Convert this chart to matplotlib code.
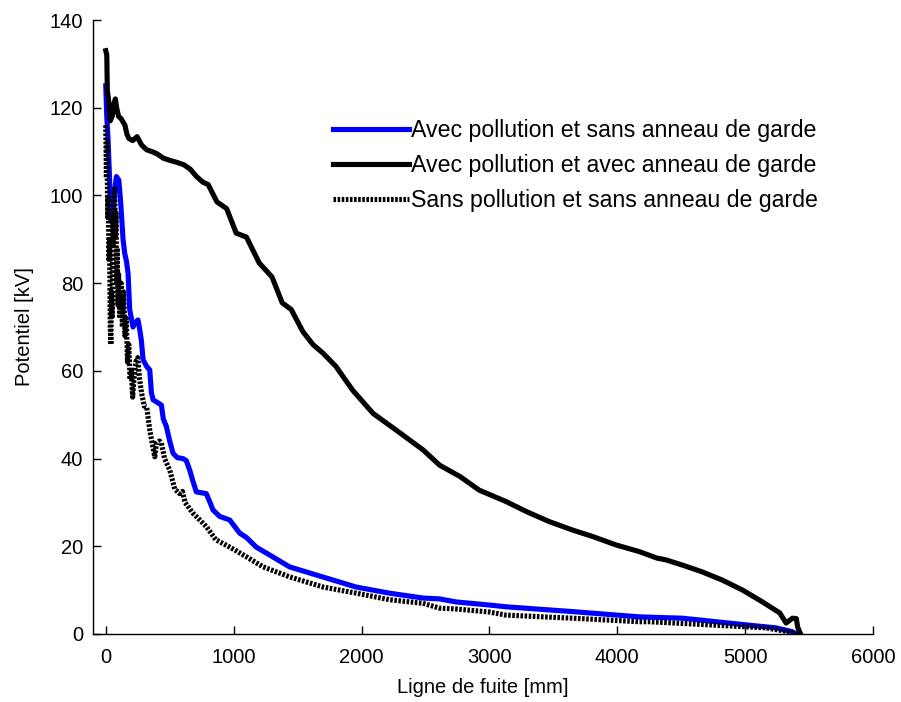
import matplotlib
matplotlib.use("Agg")
import matplotlib.pyplot as plt

# Avec pollution et sans anneau de garde (blue)
x_blue = [0, 8, 18, 31, 39, 50, 57, 70, 83, 102, 115, 122, 135, 148, 162, 174, 187, 200, 213,
          230, 252, 266, 278, 292, 320, 344, 357, 370, 435, 450, 474, 500, 526, 560, 604, 630,
          656, 680, 708, 786, 815, 838, 891, 969, 1021, 1047, 1100, 1177, 1305, 1437, 1697,
          1958, 2219, 2479, 2610, 2740, 3000, 3130, 3651, 4172, 4508, 4771, 5031, 5240, 5370, 5400]
y_blue = [125, 118, 112.6, 102.7, 94.4, 95, 96, 101, 104.3, 103.5, 99, 96, 90, 86.8, 85, 82.3,
          74, 72, 70, 71, 71.6, 69.3, 67, 62.5, 61, 60.2, 55, 53.4, 52.2, 49, 47.3, 44, 41.2,
          40.2, 40, 39.5, 37.4, 35, 32.4, 32, 30, 28.3, 26.8, 26, 24, 23, 22, 19.8, 17.6, 15.3,
          13, 10.7, 9.3, 8.2, 8, 7.3, 6.6, 6.2, 5.1, 3.9, 3.6, 2.8, 2, 1.4, 0.5, 0]

# Avec pollution et avec anneau de garde (black)
x_black = [0, 8, 12, 25, 35, 50, 65, 75, 85, 100, 120, 150, 165, 180, 210, 245, 280, 320, 360,
           400, 450, 500, 560, 610, 660, 710, 760, 800, 870, 945, 1020, 1100, 1200, 1300, 1380,
           1450, 1540, 1620, 1700, 1800, 1930, 2090, 2270, 2480, 2610, 2770, 2920, 3130, 3290,
           3470, 3650, 3810, 3990, 4170, 4310, 4380, 4510, 4660, 4820, 4980, 5130, 5270, 5320,
           5370, 5400, 5410, 5430]
y_black = [133, 132, 124, 121, 117, 118, 121, 122, 120, 118, 117.5, 116, 114, 113, 112.5, 113.4,
           111.5, 110.4, 110, 109.5, 108.5, 108, 107.5, 107, 106, 104.3, 103, 102.5, 98.5, 97,
           91.4, 90.5, 84.6, 81.4, 75.5, 74, 69, 66, 64, 61, 55.6, 50.3, 46.5, 42, 38.5, 35.9,
           32.8, 30.2, 27.9, 25.6, 23.7, 22.2, 20.3, 18.8, 17.3, 16.9, 15.7, 14.2, 12.3, 10,
           7.4, 4.8, 2.5, 3.6, 3.5, 1.6, 0.2]

# Sans pollution et sans anneau de garde (dotted)
x_dot = [0, 5, 10, 15, 20, 25, 30, 35, 40, 45, 50, 55, 60, 65, 70, 75, 80, 85, 90, 95, 100,
         110, 120, 130, 140, 150, 160, 170, 180, 190, 200, 210, 220, 235, 250, 265, 280, 300,
         320, 344, 383, 396, 420, 435, 460, 500, 540, 578, 600, 620, 680, 708, 786, 860, 970,
         1100, 1230, 1440, 1700, 1960, 2220, 2480, 2610, 2740, 3000, 3130, 3650, 4170, 4250,
         4770, 5160, 5340, 5400]
y_dot = [116, 104, 112, 95, 100, 85, 90, 70, 66, 78, 72, 95, 88, 100, 102, 90, 96, 80, 88, 75,
         82, 72, 80, 70, 78, 68, 72, 62, 66, 58, 60, 54, 58, 62, 63, 58, 55, 52, 51.8, 46.5,
         40.4, 43.5, 44, 43.5, 40, 37.4, 33, 32, 32.5, 30, 27.6, 26.8, 24.5, 21.5, 19.8, 17.6,
         15.3, 13, 10.7, 9.3, 7.8, 7, 5.9, 5.7, 5, 4.3, 3.6, 2.8, 2.8, 2, 1.4, 0.5, 0]

labels = ["Avec pollution et sans anneau de garde",
          "Avec pollution et avec anneau de garde",
          "Sans pollution et sans anneau de garde"]

plt.rcParams['font.family'] = ['Liberation Sans', 'DejaVu Sans']

fig = plt.figure(figsize=(9.01, 7.02), dpi=100)
ax = fig.add_axes([0.1032, 0.0969, 0.8658, 0.8746])

ax.plot(x_blue, y_blue, color='#0000ff', lw=3.7, label=labels[0])
ax.plot(x_black, y_black, color='black', lw=3.7, label=labels[1])
ax.plot(x_dot, y_dot, color='black', lw=3.7, linestyle=(0, (0.5, 0.3)),
        dash_capstyle='butt', label=labels[2])

ax.set_xlim(-100, 6000)
ax.set_ylim(0, 140)
ax.set_xticks(range(0, 6001, 1000))
ax.set_yticks(range(0, 141, 20))
ax.tick_params(direction='in', length=6, width=1, labelsize=14.5)
ax.tick_params(axis='x', pad=10)
ax.tick_params(axis='y', pad=7)
ax.spines['top'].set_visible(False)
ax.spines['right'].set_visible(False)
for s in ['left', 'bottom']:
    ax.spines[s].set_linewidth(1)

ax.set_xlabel("Ligne de fuite [mm]", fontsize=14.5, labelpad=8)
ax.set_ylabel("Potentiel [kV]", fontsize=14.5, labelpad=11)

ax.legend(loc='upper left', bbox_to_anchor=(0.308, 0.838), frameon=False, fontsize=16.7,
          handlelength=3.25, handletextpad=0.1, labelspacing=0.5, borderaxespad=0,
          borderpad=0)

fig.savefig("out.png", dpi=100)
